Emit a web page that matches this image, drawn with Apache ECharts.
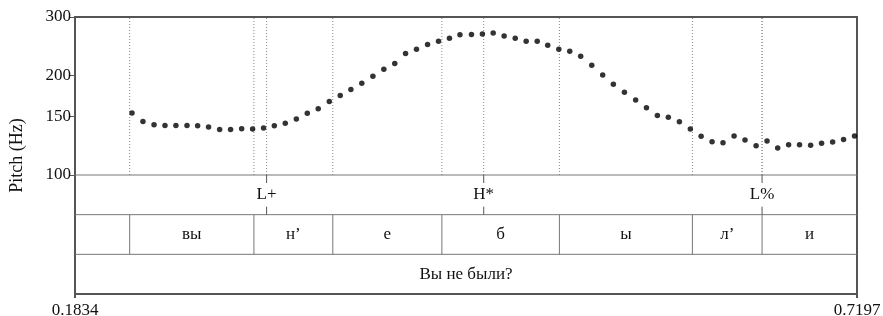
<!DOCTYPE html>
<html>
<head>
<meta charset="utf-8">
<script src="https://cdn.jsdelivr.net/npm/echarts@6/dist/echarts.min.js"></script>
<style>
  html, body { margin: 0; padding: 0; background: #fff; }
  #chart { width: 883px; height: 316px; }
</style>
</head>
<body>
<div id="chart"></div>
<script>
// time window (s)
const tMin = 0.1834
const tMax = 0.7197

// pitch track
const pitchTimes = [
  0.2225, 0.2300, 0.2376, 0.2451, 0.2526, 0.2602, 0.2675, 0.2750, 0.2826, 0.2901,
  0.2977, 0.3052, 0.3127, 0.3201, 0.3276, 0.3352, 0.3427, 0.3502, 0.3578, 0.3653,
  0.3726, 0.3801, 0.3877, 0.3952, 0.4027, 0.4101, 0.4176, 0.4252, 0.4327, 0.4402,
  0.4474, 0.4553, 0.4628, 0.4702, 0.4777, 0.4853, 0.4928, 0.5004, 0.5076, 0.5152,
  0.5227, 0.5302, 0.5378, 0.5453, 0.5526, 0.5602, 0.5679, 0.5753, 0.5828, 0.5903,
  0.5979, 0.6054, 0.6128, 0.6203, 0.6278, 0.6354, 0.6429, 0.6505, 0.6580, 0.6653,
  0.6728, 0.6803, 0.6879, 0.6954, 0.7030, 0.7105, 0.7180
]
const pitchHz = [
  153.8, 145.1, 141.8, 141.2, 141.2, 141.2, 140.8, 139.5, 137.3, 137.3,
  137.9, 137.6, 138.6, 140.8, 143.2, 147.7, 153.5, 158.4, 166.8, 173.9,
  181.3, 189.4, 198.8, 208.7, 217.1, 232.7, 239.8, 247.7, 253.4, 258.7,
  265.1, 265.5, 266.6, 268.5, 263.0, 258.7, 253.4, 253.4, 246.5, 239.8,
  236.5, 228.4, 214.5, 200.6, 188.1, 177.9, 168.6, 159.5, 151.3, 149.5,
  144.7, 137.6, 130.9, 126.0, 125.1, 131.1, 127.5, 122.6, 126.6, 120.6,
  123.4, 123.4, 122.9, 124.6, 125.7, 128.1, 131.1
]
const pitchTicks = [100, 150, 200, 300]

// annotation tiers
const tierLines = [1, 2, 3]
const boundaryTimes = [0.2209, 0.3061, 0.3602, 0.4350, 0.5156, 0.6068, 0.6546]
const intervalLabels = ['', 'вы', 'н’', 'е', 'б', 'ы', 'л’', 'и']
const toneTimes = [0.3148, 0.4637, 0.6546]
const toneLabels = ['L+', 'H*', 'L%']
const sentence = 'Вы не были?'
const timeTicks = [tMin, tMax]

const FONT = '"Liberation Serif", "Times New Roman", serif'
const edges = [tMin].concat(boundaryTimes, [tMax])
const intervals = intervalLabels.map((lab, i) => [edges[i], edges[i + 1]])

function textEl(x, y, text) {
  return {
    type: 'text', x: x, y: y,
    style: { text: text, font: '17px ' + FONT, fill: '#111', align: 'center', verticalAlign: 'middle' }
  }
}

const chart = echarts.init(document.getElementById('chart'))
chart.setOption({
  animation: false,
  textStyle: { fontFamily: FONT },
  grid: [
    { left: 75, right: 26, top: 17, height: 158, outerBoundsMode: 'none' },
    { left: 75, right: 26, top: 175, height: 119, outerBoundsMode: 'none' },
    { left: 75, right: 26, top: 17, height: 277, outerBoundsMode: 'none', show: true, borderColor: '#555', borderWidth: 2 }
  ],
  xAxis: [
    { gridIndex: 0, type: 'value', min: tMin, max: tMax, show: false },
    {
      gridIndex: 1, type: 'value', min: tMin, max: tMax,
      axisLine: { show: false },
      splitLine: { show: false },
      axisTick: { customValues: timeTicks, length: 4, lineStyle: { color: '#555', width: 2 } },
      axisLabel: {
        customValues: timeTicks, color: '#111', fontSize: 17, fontFamily: FONT, margin: 8,
        formatter: v => v.toFixed(4)
      }
    },
    { gridIndex: 2, type: 'value', min: 0, max: 1, show: false }
  ],
  yAxis: [
    {
      gridIndex: 0, type: 'log', logBase: 10, min: 100, max: 300,
      axisLine: { show: false },
      splitLine: { show: false },
      axisTick: { customValues: pitchTicks, length: 5, lineStyle: { color: '#555', width: 1 } },
      axisLabel: { customValues: pitchTicks, color: '#111', fontSize: 17, fontFamily: FONT, margin: 4 }
    },
    {
      gridIndex: 1, type: 'value', min: 0, max: 3, show: false
    },
    {
      gridIndex: 2, type: 'value', min: 0, max: 1,
      axisLine: { show: false }, axisTick: { show: false }, axisLabel: { show: false },
      splitLine: { show: false },
      name: 'Pitch (Hz)', nameLocation: 'middle', nameGap: 49,
      nameTextStyle: { color: '#111', fontSize: 18, fontFamily: FONT }
    }
  ],
  series: [
    {
      // dotted guides in the pitch panel at every boundary and tone
      type: 'custom', xAxisIndex: 0, yAxisIndex: 0, silent: true, z: 1,
      data: boundaryTimes.concat(toneTimes).map(t => [t]),
      renderItem(params, api) {
        const a = api.coord([api.value(0), 100])
        const b = api.coord([api.value(0), 300])
        return {
          type: 'line', shape: { x1: a[0], y1: a[1], x2: b[0], y2: b[1] },
          style: { stroke: '#888', lineWidth: 1, lineDash: [1, 2] }
        }
      }
    },
    {
      type: 'scatter', xAxisIndex: 0, yAxisIndex: 0, z: 3,
      symbolSize: 5.5, itemStyle: { color: '#000' },
      data: pitchTimes.map((t, i) => [t, pitchHz[i]])
    },
    {
      // horizontal tier separators
      type: 'custom', xAxisIndex: 1, yAxisIndex: 1, silent: true,
      data: tierLines.map(v => [v]),
      renderItem(params, api) {
        const a = api.coord([tMin, api.value(0)])
        const b = api.coord([tMax, api.value(0)])
        return { type: 'line', shape: { x1: a[0], y1: a[1], x2: b[0], y2: b[1] }, style: { stroke: '#777', lineWidth: 1 } }
      }
    },
    {
      // interval boundaries of the segment tier
      type: 'custom', xAxisIndex: 1, yAxisIndex: 1, silent: true,
      data: boundaryTimes.map(t => [t]),
      renderItem(params, api) {
        const a = api.coord([api.value(0), 1])
        const b = api.coord([api.value(0), 2])
        return { type: 'line', shape: { x1: a[0], y1: a[1], x2: b[0], y2: b[1] }, style: { stroke: '#777', lineWidth: 1 } }
      }
    },
    {
      // segment labels
      type: 'custom', xAxisIndex: 1, yAxisIndex: 1, silent: true,
      data: intervals,
      renderItem(params, api) {
        const p = api.coord([(api.value(0) + api.value(1)) / 2, 1.5])
        return textEl(p[0], p[1], intervalLabels[params.dataIndex])
      }
    },
    {
      // tone tier: point marks and labels
      type: 'custom', xAxisIndex: 1, yAxisIndex: 1, silent: true,
      data: toneTimes.map(t => [t]),
      renderItem(params, api) {
        const top = api.coord([api.value(0), 3])
        const bot = api.coord([api.value(0), 2])
        const mid = api.coord([api.value(0), 2.5])
        return {
          type: 'group',
          children: [
            { type: 'line', shape: { x1: top[0], y1: top[1], x2: top[0], y2: top[1] + 8 }, style: { stroke: '#555', lineWidth: 1 } },
            { type: 'line', shape: { x1: bot[0], y1: bot[1] - 8, x2: bot[0], y2: bot[1] }, style: { stroke: '#555', lineWidth: 1 } },
            textEl(mid[0], mid[1], toneLabels[params.dataIndex])
          ]
        }
      }
    },
    {
      // sentence tier
      type: 'custom', xAxisIndex: 1, yAxisIndex: 1, silent: true,
      data: [[tMin, tMax]],
      renderItem(params, api) {
        const p = api.coord([(api.value(0) + api.value(1)) / 2, 0.5])
        return textEl(p[0], p[1], sentence)
      }
    }
  ]
})
</script>
</body>
</html>
